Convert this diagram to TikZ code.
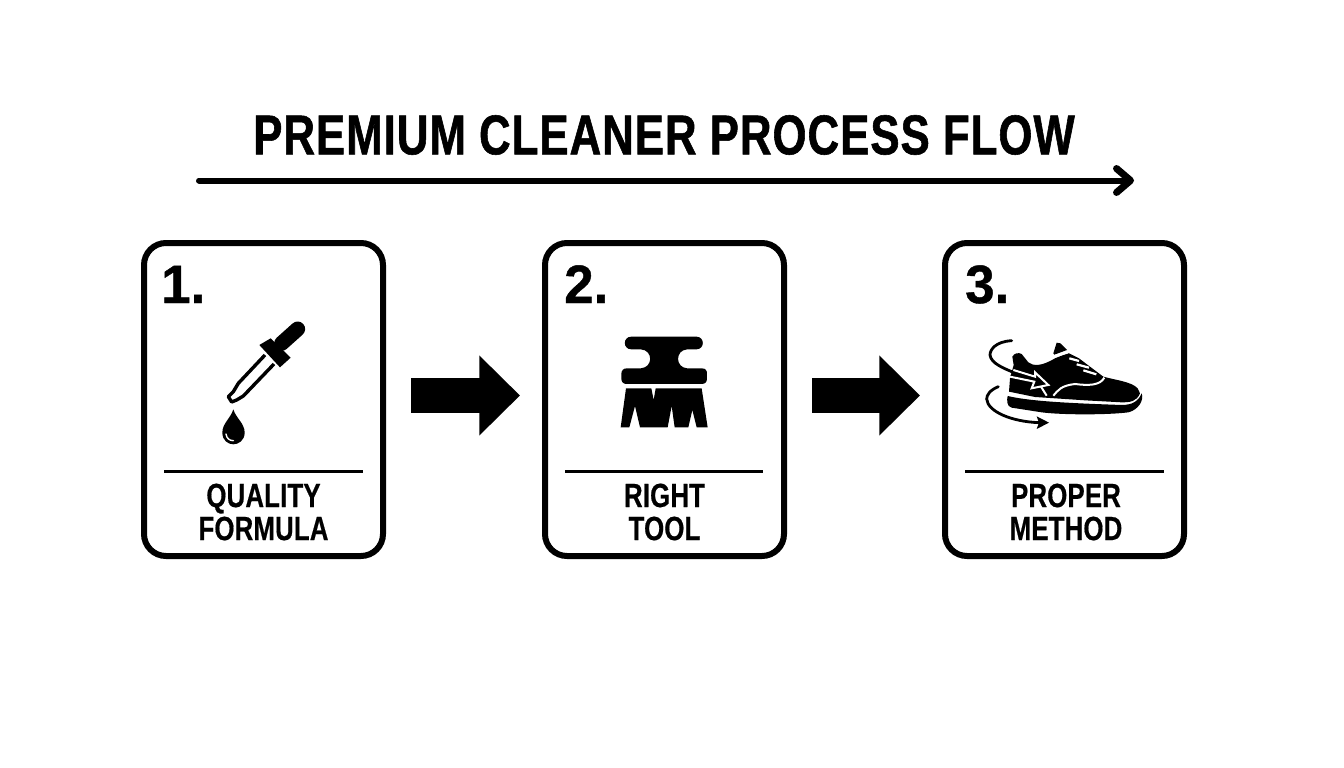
\documentclass[tikz,border=0pt]{standalone}
\usepackage{fontspec}
\setmainfont{Liberation Sans}
\newfontfamily\titlefont[FakeStretch=0.78,FakeBold=1,LetterSpace=1.9]{Liberation Sans Bold}
\newfontfamily\cardfont[FakeStretch=0.77,FakeBold=0.5,LetterSpace=0.5]{Liberation Sans Bold}
\newfontfamily\numfont[FakeStretch=0.98,FakeBold=0.8]{Liberation Sans Bold}
\usetikzlibrary{arrows.meta,calc}
\tikzset{
  x=1pt, y=-1pt,
  flowtitle/.style = {inner sep=0pt, font=\titlefont\fontsize{56}{60}\selectfont},
  cardbox/.style = {draw=black, line width=6pt, rounded corners=22pt, fill=white, minimum width=239pt, minimum height=313pt, inner sep=0pt},
  cardnum/.style = {anchor=base west, inner sep=0pt, font=\numfont\fontsize{54}{60}\selectfont},
  cardlabel/.style = {align=center, inner sep=0pt, font=\cardfont\fontsize{33.5}{33}\selectfont},
  sepline/.style = {draw=black, line width=3pt},
  flowline/.style = {draw=black, line width=6pt, line cap=round, -{Straight Barb[length=14pt,width=24pt,round,line width=7pt]}},
  blockarrow/.style = {draw=black, line width=34.4pt, shorten <=25pt, shorten >=22pt, -{Triangle[length=40.7pt,width=77.6pt]}},
  icon/.style = {x=0.3333pt, y=-0.3333pt}
}
\begin{document}
\begin{tikzpicture}
	\useasboundingbox (0,0) rectangle (1344,768);
	\fill[white] (0,0) rectangle (1344,768);
	% title and long arrow
	\node [flowtitle] (title) at (664,135) {PREMIUM CLEANER PROCESS FLOW};
	\coordinate (flowstart) at (199,180.5);
	\coordinate (flowend) at (1134,180.5);
	\draw [flowline] (flowstart) -- (flowend);
	% cards
	\node [cardbox] (card1) at (263.5,399.5) {};
	\node [cardbox] (card2) at (664.5,399.5) {};
	\node [cardbox] (card3) at (1064.5,399.5) {};
	\node [cardnum] (num1) at (161,303) {1.};
	\node [cardnum] (num2) at (564,303) {2.};
	\node [cardnum] (num3) at (965,303) {3.};
	\node [cardlabel] (label1) at (263.5,512) {QUALITY\\FORMULA};
	\node [cardlabel] (label2) at (664.5,512) {RIGHT\\TOOL};
	\node [cardlabel] (label3) at (1066,512) {PROPER\\METHOD};
	\coordinate (sep1a) at (164,471);
	\coordinate (sep1b) at (363,471);
	\coordinate (sep2a) at (565,471);
	\coordinate (sep2b) at (763,471);
	\coordinate (sep3a) at (965,471);
	\coordinate (sep3b) at (1164,471);
	\draw [sepline] (sep1a) -- (sep1b);
	\draw [sepline] (sep2a) -- (sep2b);
	\draw [sepline] (sep3a) -- (sep3b);
	% block arrows
	\draw [blockarrow] ([yshift=4pt]card1.east) -- ([yshift=4pt]card2.west);
	\draw [blockarrow] ([yshift=4pt]card2.east) -- ([yshift=4pt]card3.west);
	% dropper
	\begin{scope}[shift={(200,310)}, icon]
		\draw [line width=15pt, line cap=round] (245,100) -- (293,57);
		\fill (178,105) -- (212,85) -- (272,143) -- (240,172) -- cycle;
		\draw [line width=3.4pt, fill=white, line join=round] (195,135) -- (115,220) -- (100,245) -- (85,260) -- (95,276) -- (110,270) -- (130,258) -- (222,162);
		\fill (100,298) .. controls (92,325) and (67,340) .. (67,368) .. controls (67,392) and (85,403) .. (100,403) .. controls (115,403) and (134,392) .. (134,368) .. controls (134,340) and (108,325) .. (100,298) -- cycle;
		\draw [white, line width=1.4pt, line cap=round] (78,372) .. controls (80,385) and (88,392) .. (100,392);
	\end{scope}
	% brush
	\begin{scope}[shift={(600,320)}, icon]
		\fill (94,50) -- (289,50) .. controls (315,50) and (315,88) .. (289,88) -- (262,88) .. controls (225,90) and (225,143) .. (262,145) -- (305,145) .. controls (318,145) and (321,152) .. (321,162) -- (321,176) .. controls (321,186) and (315,192) .. (305,192) -- (80,192) .. controls (70,192) and (64,186) .. (64,176) -- (64,162) .. controls (64,152) and (70,145) .. (80,145) -- (122,145) .. controls (160,143) and (160,90) .. (122,88) -- (94,88) .. controls (68,88) and (68,50) .. (94,50) -- cycle;
		\fill (78,205) -- (154,205) -- (161,240) -- (167,205) -- (305,205) -- (323,322) -- (290,322) -- (277,270) -- (265,322) -- (224,322) -- (215,258) -- (203,322) -- (120,322) -- (105,258) -- (88,322) -- (62,322) -- cycle;
	\end{scope}
	% shoe
	\begin{scope}[shift={(975,325)}, icon]
		\fill (235,85) -- (245,53) -- (256,55) -- (276,75) -- (238,89) -- cycle;
		\fill (102,200) -- (105,160) -- (116,120) -- (112,95) .. controls (118,84) and (130,82) .. (140,87) -- (160,112) .. controls (175,124) and (200,124) .. (240,100) -- (280,84) -- (312,100) -- (345,125) -- (385,155) .. controls (420,165) and (470,170) .. (488,190) -- (495,205) .. controls (485,230) and (465,232) .. (440,232) -- (330,226) -- (180,216) -- cycle;
		\fill (98,213) .. controls (170,230) and (300,235) .. (440,240) .. controls (470,240) and (490,230) .. (500,205) .. controls (508,225) and (490,255) .. (460,262) .. controls (400,270) and (260,270) .. (200,262) -- (110,248) .. controls (95,245) and (95,225) .. (98,213) -- cycle;
		% laces and trim
		\draw [white, line width=2.2pt] (240,93) -- (280,82);
		\draw [white, line width=2.2pt] (283,100) -- (312,108);
		\draw [white, line width=2.2pt] (305,118) -- (342,128);
		\draw [white, line width=2.2pt] (325,136) -- (364,148);
		\draw [white, line width=2pt] (235,212) .. controls (250,195) and (258,182) .. (300,177) .. controls (340,182) and (375,182) .. (388,158);
		\draw [white, line width=2pt] (198,185) -- (215,212);
		% swirls
		\draw [line width=2.8pt, line cap=round] (110,47) .. controls (60,50) and (45,75) .. (45,90) .. controls (48,115) and (85,130) .. (125,146);
		\draw [draw=white, fill=black, line width=2pt, line join=miter] (115,135) -- (180,155) -- (180,142) -- (220,180) -- (170,190) -- (178,170) -- (105,155);
		\draw [line width=2.8pt, line cap=round] (70,185) .. controls (45,195) and (35,210) .. (35,222) .. controls (38,260) and (110,290) .. (192,293);
		\fill (185,274) -- (222,293) -- (185,312) -- (192,293) -- cycle;
	\end{scope}
\end{tikzpicture}
\end{document}
